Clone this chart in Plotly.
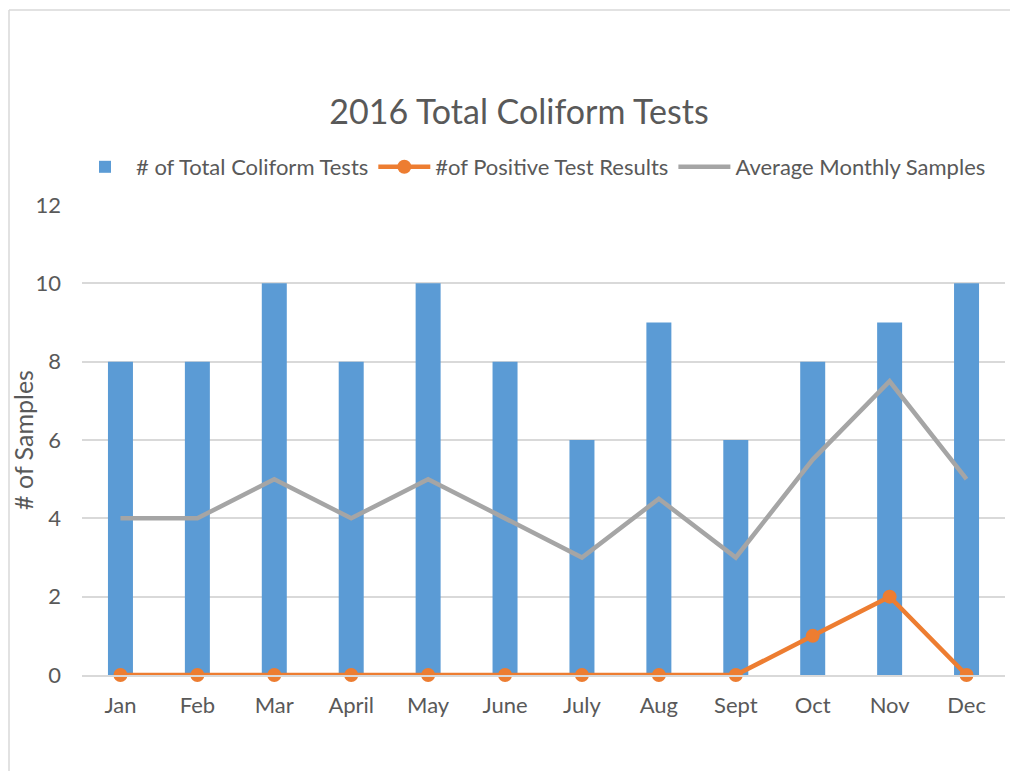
import plotly.graph_objects as go

months = ["Jan", "Feb", "Mar", "April", "May", "June", "July", "Aug", "Sept", "Oct", "Nov", "Dec"]
total_tests = [8, 8, 10, 8, 10, 8, 6, 9, 6, 8, 9, 10]
positive = [0, 0, 0, 0, 0, 0, 0, 0, 0, 1, 2, 0]
avg_samples = [4, 4, 5, 4, 5, 4, 3, 4.5, 3, 5.5, 7.5, 5]

FONT = "Lato, Open Sans, sans-serif"
OFF = 8  # page body margin
W, H = 1018 - OFF, 771 - OFF
ml, mr, mt, mb = 82 - OFF, 13, 205 - OFF, 96

fig = go.Figure()
fig.add_trace(go.Bar(x=months, y=total_tests, name="# of Total Coliform Tests",
                     marker=dict(color="#5B9BD5", line=dict(width=0))))
fig.add_trace(go.Scatter(x=months, y=positive, name="#of Positive Test Results",
                         mode="lines+markers", cliponaxis=False,
                         line=dict(color="#ED7D31", width=4.5),
                         marker=dict(color="#ED7D31", size=14)))
fig.add_trace(go.Scatter(x=months, y=avg_samples, name="Average Monthly Samples",
                         mode="lines", line=dict(color="#A5A5A5", width=4.5)))

pw = W - ml - mr
ph = H - mt - mb
def px(xp):
    return (xp - OFF - ml) / pw
def py(yp):
    return (H - mb - (yp - OFF)) / ph

fig.update_layout(
    width=W, height=H,
    margin=dict(l=ml, r=mr, t=mt, b=mb, autoexpand=False),
    paper_bgcolor="white", plot_bgcolor="white",
    font=dict(family=FONT, color="#595959", size=22),
    title=dict(text="2016 Total Coliform Tests", x=(519 - OFF) / W, xref="container", xanchor="center",
               y=1 - (112 - OFF) / H, yanchor="middle",
               font=dict(size=34, color="#595959", family=FONT)),
    bargap=0.675,
    showlegend=True,
    legend=dict(orientation="h", x=(74 - OFF) / W, xanchor="left", xref="container",
                y=1 - (167 - OFF) / H, yanchor="middle", yref="container",
                font=dict(size=22, color="#595959", family=FONT),
                itemwidth=52, tracegroupgap=0),
    xaxis=dict(range=[-0.5, 11.5], showgrid=False, showline=True, linecolor="#D9D9D9", linewidth=1.5,
               ticks="", tickfont=dict(size=22, color="#595959"), ticklabelstandoff=10),
    yaxis=dict(range=[0, 12], dtick=2, showgrid=True, gridcolor="#D9D9D9", gridwidth=1.5,
               zeroline=False, showline=False, ticks="",
               tickfont=dict(size=22, color="#595959"), ticklabelstandoff=20,
               title=dict(text="# of Samples", font=dict(size=25, color="#595959"), standoff=5)),
    shapes=[
        dict(type="line", xref="paper", yref="paper", x0=px(9), x1=px(9), y0=py(10), y1=py(800),
             line=dict(color="#D9D9D9", width=1.5)),
        dict(type="line", xref="paper", yref="paper", x0=px(9), x1=px(1100), y0=py(10), y1=py(10),
             line=dict(color="#D9D9D9", width=1.5)),
    ],
)

fig.write_html("out.html")
